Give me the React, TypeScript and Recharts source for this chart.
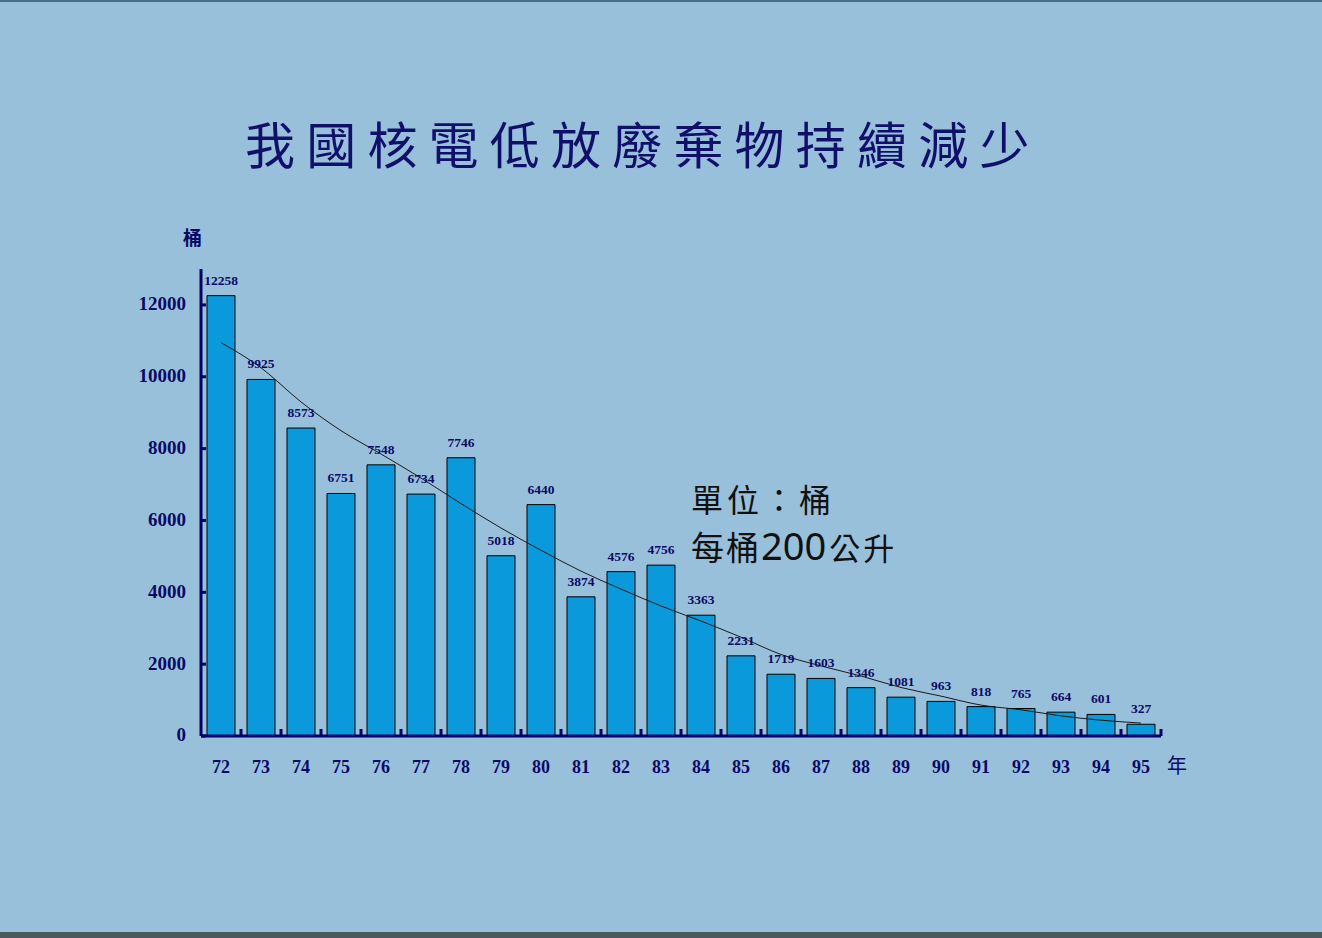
import { ComposedChart, Bar, Line, XAxis, YAxis, LabelList } from "recharts";

const years = ["72", "73", "74", "75", "76", "77", "78", "79", "80", "81", "82", "83", "84", "85", "86", "87", "88", "89", "90", "91", "92", "93", "94", "95"];
const barrels = [12258, 9925, 8573, 6751, 7548, 6734, 7746, 5018, 6440, 3874, 4576, 4756, 3363, 2231, 1719, 1603, 1346, 1081, 963, 818, 765, 664, 601, 327];
// trend line at each year
const trend = [10950, 10250, 9300, 8500, 7850, 7180, 6470, 5790, 5170, 4590, 4090, 3620, 3200, 2750, 2270, 1950, 1670, 1350, 1110, 860, 730, 560, 440, 360];
const yTicks = [0, 2000, 4000, 6000, 8000, 10000, 12000];

const data = years.map((y, i) => ({ year: y, value: barrels[i], trend: trend[i] }));

const NAVY = "#000066";
const TEXT = "#0a0a66";
const SERIF = "'Liberation Serif', 'Times New Roman', serif";
const CJK = "'Noto Sans CJK TC', 'Noto Sans CJK SC', sans-serif";

const YTick = (props: any) => {
  const { x, y, payload } = props;
  return (
    <g>
      <line x1={x + 15} x2={x + 20} y1={y} y2={y} stroke={NAVY} strokeWidth={3} />
      <text x={x} y={y + 1} textAnchor="end" dominantBaseline="middle" fontFamily={SERIF} fontWeight="bold" fontSize={19} fill={TEXT}>
        {payload.value}
      </text>
    </g>
  );
};

const XTick = (props: any) => {
  const { x, y, payload } = props;
  const half = payload.offset ?? 20;
  const axisY = y - 20;
  return (
    <g>
      <line x1={x + half} x2={x + half} y1={axisY} y2={axisY - 7} stroke={NAVY} strokeWidth={3} />
      <text x={x} y={axisY + 33} textAnchor="middle" dominantBaseline="middle" fontFamily={SERIF} fontWeight="bold" fontSize={18} fill={TEXT}>
        {payload.value}
      </text>
    </g>
  );
};

export default function App() {
  return (
    <div style={{ position: "absolute", left: 0, top: 0, width: 1322, height: 938, background: "#99c0da", overflow: "hidden" }}>
      <div style={{ position: "absolute", left: 0, top: 0, width: 1322, height: 2, background: "#4a6e87" }} />
      <div style={{ position: "absolute", left: 0, top: 932, width: 1322, height: 6, background: "#4b5a5f" }} />

      <div style={{ position: "absolute", left: 245, top: 112, width: 820, whiteSpace: "nowrap", fontFamily: CJK, fontSize: 50, letterSpacing: 11.2, color: "#10106a", lineHeight: "60px" }}>
        我國核電低放廢棄物持續減少
      </div>

      <div style={{ position: "absolute", left: 183, top: 225, fontFamily: CJK, fontWeight: 700, fontSize: 19, color: TEXT, lineHeight: "24px" }}>桶</div>
      <div style={{ position: "absolute", left: 1167, top: 752, fontFamily: CJK, fontSize: 20, color: TEXT, lineHeight: "26px" }}>年</div>

      <div style={{ position: "absolute", left: 691, top: 478, fontFamily: CJK, fontSize: 32, letterSpacing: 4, color: "#111", lineHeight: "40px" }}>單位：桶</div>
      <div style={{ position: "absolute", left: 691, top: 522, fontFamily: CJK, fontSize: 33, letterSpacing: 2, color: "#111", lineHeight: "46px", whiteSpace: "nowrap" }}>
        每桶<span style={{ fontFamily: "'Noto Sans', sans-serif", fontSize: 38, letterSpacing: 0 }}>200</span>
        <span style={{ fontSize: 31, letterSpacing: 3, marginLeft: 3 }}>公升</span>
      </div>

      <div style={{ position: "absolute", left: 0, top: 0 }}>
        <ComposedChart width={1322} height={938} data={data} margin={{ top: 269, right: 161, bottom: 162, left: 141 }} barSize={28}>
          <XAxis
            dataKey="year"
            interval={0}
            height={40}
            tickSize={0}
            tickMargin={20}
            tick={<XTick />}
            axisLine={{ stroke: NAVY, strokeWidth: 3 }}
            tickLine={false}
          />
          <YAxis
            width={60}
            domain={[0, 13000]}
            ticks={yTicks}
            tickSize={0}
            tickMargin={15}
            tick={<YTick />}
            axisLine={{ stroke: NAVY, strokeWidth: 3 }}
            tickLine={false}
            allowDataOverflow
          />
          <Bar dataKey="value" fill="#0a99da" stroke="#000" strokeWidth={1} isAnimationActive={false}>
            <LabelList dataKey="value" position="top" offset={11} fontFamily={SERIF} fontWeight="bold" fontSize={13.5} fill={TEXT} />
          </Bar>
          <Line dataKey="trend" type="monotone" stroke="#1a1a1a" strokeWidth={1} dot={false} isAnimationActive={false} />
        </ComposedChart>
      </div>
    </div>
  );
}
